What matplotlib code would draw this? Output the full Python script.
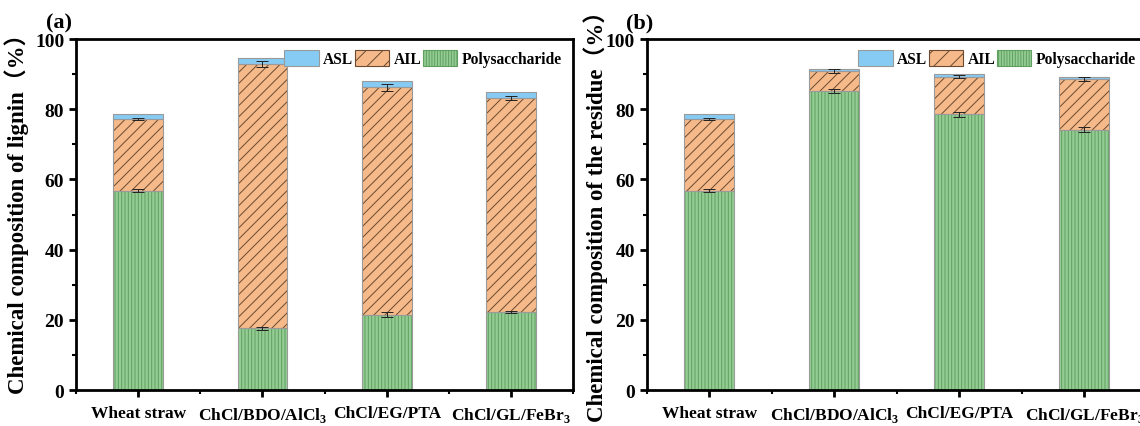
import numpy as np
import matplotlib.pyplot as plt
from matplotlib.patches import Patch
from matplotlib.ticker import MultipleLocator

plt.rcParams['font.family'] = ['Liberation Serif', 'Noto Sans CJK SC']
plt.rcParams['font.weight'] = 'bold'
plt.rcParams['mathtext.fontset'] = 'custom'
plt.rcParams['mathtext.rm'] = 'Liberation Serif:bold'
plt.rcParams['mathtext.bf'] = 'Liberation Serif:bold'
plt.rcParams['hatch.linewidth'] = 0.7

samples = ['Wheat straw', 'ChCl/BDO/AlCl$_{\\mathrm{3}}$', 'ChCl/EG/PTA', 'ChCl/GL/FeBr$_{\\mathrm{3}}$']

# (a) lignin composition, wt%
poly_a = [56.8, 17.6, 21.5, 22.1]
ail_a = [20.4, 75.3, 64.8, 61.0]
asl_a = [1.4, 1.6, 1.7, 1.7]
poly_err_a = [0.4, 0.4, 0.6, 0.3]
ail_err_a = [0.4, 0.8, 1.0, 0.6]

# (b) residue composition, wt%
poly_b = [56.8, 85.1, 78.5, 74.1]
ail_b = [20.4, 5.8, 10.8, 14.5]
asl_b = [1.4, 0.6, 0.6, 0.7]
poly_err_b = [0.4, 0.6, 0.7, 0.7]
ail_err_b = [0.4, 0.6, 0.5, 0.6]

c_asl = '#86cbf4'
c_ail = '#f5b98a'
c_poly = '#94cd94'
h_ail = '#6b4a2f'
h_poly = '#5f9f5f'
edge = '#9a9a9a'


def draw_panel(ax, poly, ail, asl, poly_err, ail_err, ylabel, tag, label_xy, tag_x):
    x = np.arange(len(samples))
    w = 0.4
    poly = np.array(poly)
    ail = np.array(ail)
    asl = np.array(asl)
    # fills with hatch (hatch colour comes from edgecolor), then thin outlines
    ax.bar(x, poly, w, color=c_poly, edgecolor=h_poly, hatch='|||||', linewidth=0)
    ax.bar(x, ail, w, bottom=poly, color=c_ail, edgecolor=h_ail, hatch='///', linewidth=0)
    ax.bar(x, asl, w, bottom=poly + ail, color=c_asl, linewidth=0)
    for b, h in [(0, poly), (poly, ail), (poly + ail, asl)]:
        ax.bar(x, h, w, bottom=b, fill=False, edgecolor=edge, linewidth=0.8)
    ax.errorbar(x, poly, yerr=poly_err, fmt='none', ecolor='#222222',
                elinewidth=0.7, capsize=4, capthick=0.7)
    ax.errorbar(x, poly + ail, yerr=ail_err, fmt='none', ecolor='#222222',
                elinewidth=0.7, capsize=4, capthick=0.7)

    ax.set_xlim(-0.5, 3.5)
    ax.set_ylim(0, 100)
    ax.set_xticks(x)
    ax.set_xticklabels(samples, fontsize=12.5, fontweight='bold')
    ax.xaxis.set_minor_locator(MultipleLocator(0.5))
    ax.yaxis.set_major_locator(MultipleLocator(20))
    ax.yaxis.set_minor_locator(MultipleLocator(10))
    ax.tick_params(axis='y', labelsize=14, width=2, length=5)
    ax.tick_params(axis='x', width=2, length=5, pad=6)
    ax.tick_params(which='minor', width=1.5, length=3)
    for s in ax.spines.values():
        s.set_linewidth(2)
    ax.set_ylabel(ylabel, fontsize=16.5, fontweight='bold')
    ax.yaxis.set_label_coords(*label_xy)

    handles = [
        Patch(facecolor=c_asl, edgecolor=edge, linewidth=0.8, label='ASL'),
        Patch(facecolor=c_ail, edgecolor=h_ail, hatch='//', linewidth=0.8, label='AIL'),
        Patch(facecolor=c_poly, edgecolor=h_poly, hatch='||||||', linewidth=0.8, label='Polysaccharide'),
    ]
    ax.legend(handles=handles, loc='upper right', ncol=3, frameon=False,
              handlelength=2.2, handleheight=1.2,
              handletextpad=0.3, columnspacing=0.1, borderaxespad=0.3,
              prop={'weight': 'bold', 'size': 11.2})
    ax.text(tag_x, 1.02, tag, transform=ax.transAxes, fontsize=16,
            fontweight='bold', ha='center', va='bottom')


fig = plt.figure(figsize=(11.4, 4.27), dpi=100)
ax1 = fig.add_axes([0.0667, 0.0843, 0.436, 0.822])
ax2 = fig.add_axes([0.5675, 0.0843, 0.4386, 0.822])

draw_panel(ax1, poly_a, ail_a, asl_a, poly_err_a, ail_err_a,
           'Chemical composition of lignin（%）', '(a)', (-0.095, 0.52), -0.035)
draw_panel(ax2, poly_b, ail_b, asl_b, poly_err_b, ail_err_b,
           'Chemical composition of the residue（%）', '(b)', (-0.078, 0.512), -0.015)

plt.savefig('out.png', dpi=100)
